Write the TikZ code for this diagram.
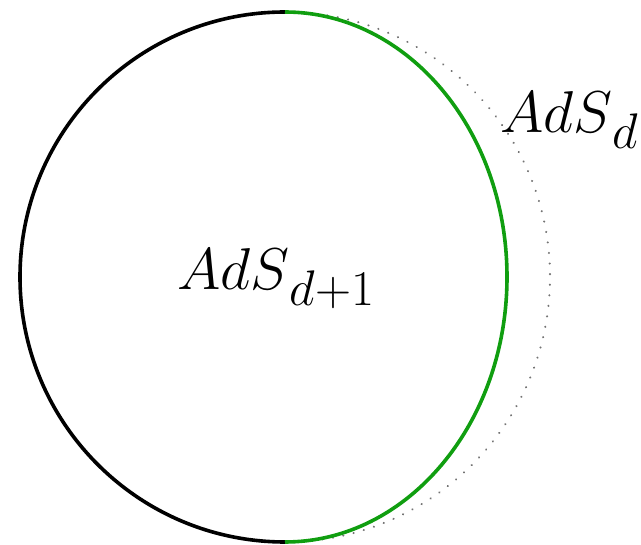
\documentclass[tikz,border=0pt]{standalone}
\usepackage{fix-cm}
\definecolor{arcgreen}{RGB}{16,158,16}
\definecolor{dotgray}{RGB}{115,115,115}
\newcommand\lowsub[1]{\raisebox{-16pt}{\fontsize{50}{50}\selectfont$#1$}}
\tikzset{
  bulk/.style={line width=3.6pt, black},
  bdry/.style={line width=3.6pt, arcgreen},
  ghost/.style={line width=2.2pt, dotgray, dash pattern=on 0.1pt off 10.5pt, line cap=round},
  lbl/.style={font=\fontsize{59}{62}\selectfont, inner sep=0pt}
}
\begin{document}
\begin{tikzpicture}[x=1pt,y=1pt]
\useasboundingbox (0,0) rectangle (641,-545);
\coordinate (top) at (285,-12);
\coordinate (bot) at (285,-542);
\draw[ghost] (top) arc[start angle=90, end angle=-90, x radius=265, y radius=265];
\draw[bulk] (top) arc[start angle=90, end angle=270, radius=265];
\draw[bdry] (top) arc[start angle=90, end angle=-90, x radius=222, y radius=265];
\node[lbl, anchor=base] (bulkl) at (276,-290) {$AdS$\lowsub{d{+}1}};
\node[lbl, anchor=base west] (bdryl) at (500,-133) {$AdS$\lowsub{d}};
\end{tikzpicture}
\end{document}
